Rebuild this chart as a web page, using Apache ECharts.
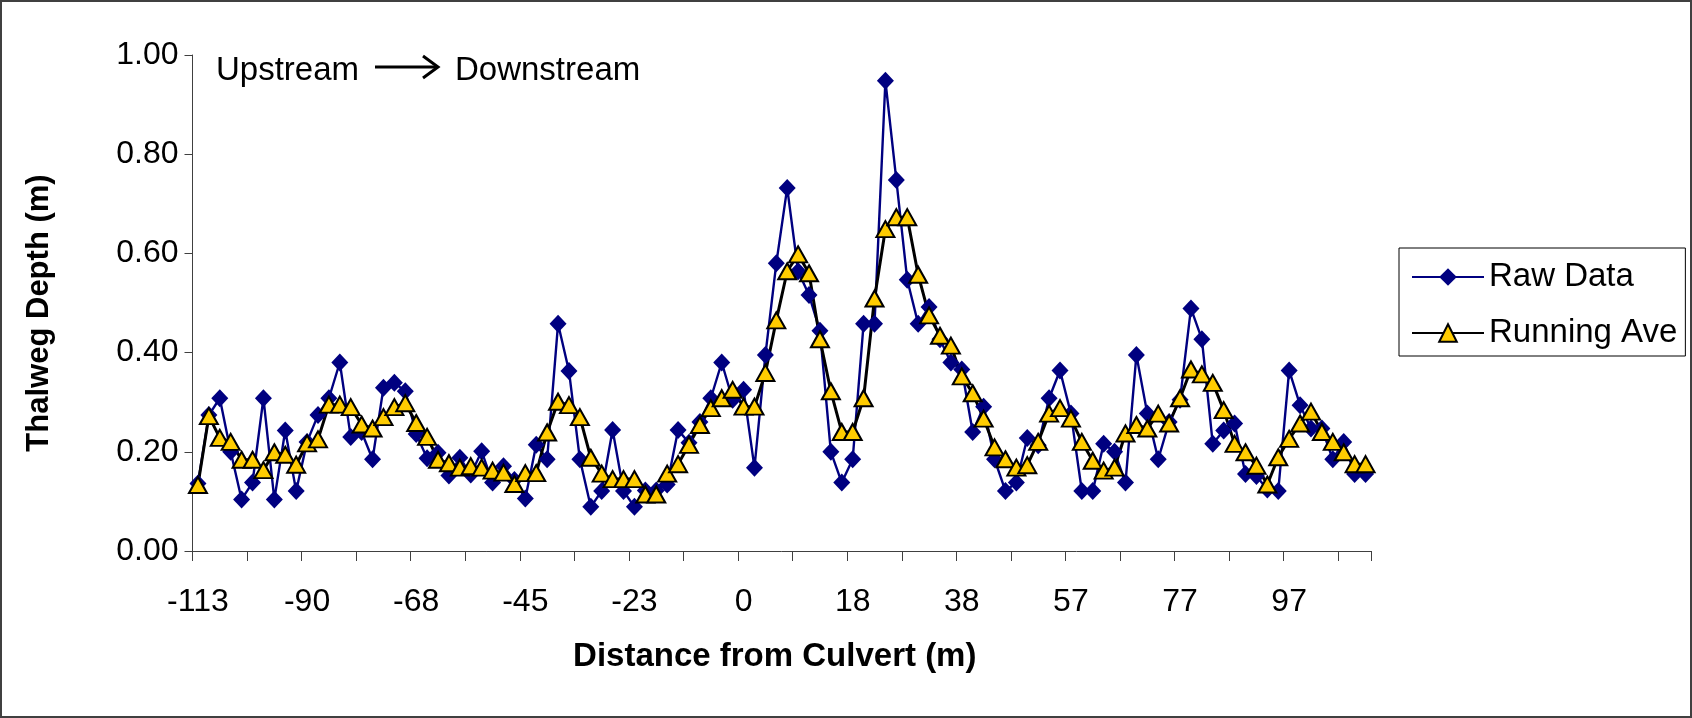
<!DOCTYPE html>
<html>
<head>
<meta charset="utf-8">
<script src="https://cdn.jsdelivr.net/npm/echarts@6/dist/echarts.min.js"></script>
<style>
html, body { margin: 0; padding: 0; background: #fff; }
#chart { width: 1692px; height: 718px; }
</style>
</head>
<body>
<div id="chart"></div>
<script>
// Distance from culvert (m) for each surveyed station (category axis)
const distances = [
  '-113','-111','-108','-106','-104','-101','-99','-97','-95','-92',
  '-90','-88','-86','-83','-81','-79','-77','-75','-72','-70',
  '-68','-66','-63','-61','-59','-56','-54','-52','-50','-47',
  '-45','-43','-41','-38','-36','-34','-32','-30','-27','-25',
  '-23','-21','-18','-16','-14','-11','-9','-7','-5','-2',
  '0','2','4','5','7','9','11','13','14','16',
  '18','20','22','24','26','28','30','32','34','36',
  '38','40','42','44','46','48','49','51','53','55',
  '57','59','61','63','65','67','69','71','73','75',
  '77','79','81','83','85','87','89','91','93','95',
  '97','99','101','103','105','107','109','111'
];

// Thalweg depth (m), raw survey data
const rawData = [
  0.136, 0.274, 0.308, 0.200, 0.104, 0.138, 0.308, 0.104, 0.243, 0.121,
  0.220, 0.274, 0.308, 0.380, 0.230, 0.240, 0.185, 0.329, 0.339, 0.322,
  0.236, 0.187, 0.198, 0.152, 0.188, 0.154, 0.201, 0.138, 0.171, 0.143,
  0.106, 0.214, 0.185, 0.458, 0.363, 0.185, 0.089, 0.121, 0.244, 0.121,
  0.089, 0.122, 0.122, 0.134, 0.244, 0.218, 0.260, 0.308, 0.380, 0.305,
  0.325, 0.168, 0.395, 0.580, 0.732, 0.564, 0.516, 0.444, 0.200, 0.138,
  0.185, 0.458, 0.458, 0.948, 0.748, 0.547, 0.458, 0.492, 0.427, 0.380,
  0.366, 0.240, 0.291, 0.185, 0.121, 0.138, 0.228, 0.213, 0.308, 0.364,
  0.277, 0.121, 0.121, 0.216, 0.200, 0.138, 0.395, 0.277, 0.185, 0.260,
  0.305, 0.489, 0.427, 0.216, 0.243, 0.257, 0.155, 0.151, 0.124, 0.121,
  0.364, 0.294, 0.247, 0.247, 0.185, 0.220, 0.155, 0.155
];

// Thalweg depth (m), running average
const runningAve = [
  0.133, 0.272, 0.228, 0.220, 0.184, 0.184, 0.163, 0.199, 0.194, 0.174,
  0.217, 0.225, 0.295, 0.295, 0.290, 0.255, 0.247, 0.270, 0.290, 0.298,
  0.258, 0.230, 0.184, 0.177, 0.168, 0.171, 0.168, 0.162, 0.158, 0.135,
  0.157, 0.157, 0.239, 0.301, 0.294, 0.270, 0.188, 0.156, 0.145, 0.145,
  0.145, 0.114, 0.114, 0.156, 0.175, 0.214, 0.254, 0.288, 0.308, 0.325,
  0.291, 0.291, 0.359, 0.465, 0.564, 0.598, 0.560, 0.427, 0.322, 0.240,
  0.240, 0.308, 0.509, 0.649, 0.673, 0.673, 0.557, 0.475, 0.434, 0.414,
  0.352, 0.318, 0.267, 0.209, 0.185, 0.168, 0.173, 0.220, 0.277, 0.288,
  0.267, 0.220, 0.182, 0.162, 0.168, 0.237, 0.254, 0.247, 0.277, 0.257,
  0.308, 0.366, 0.356, 0.339, 0.284, 0.216, 0.199, 0.172, 0.134, 0.189,
  0.226, 0.257, 0.281, 0.240, 0.220, 0.199, 0.175, 0.175
];

const yTicks = [0, 0.2, 0.4, 0.6, 0.8, 1.0];

const FONT = "'Liberation Sans', Arial, sans-serif";

const chart = echarts.init(document.getElementById('chart'), null, { renderer: 'canvas' });

chart.setOption({
  animation: false,
  backgroundColor: '#ffffff',
  textStyle: { fontFamily: FONT, color: '#000' },
  grid: { left: 192.5, right: 321, top: 55, bottom: 167, containLabel: false },
  legend: {
    orient: 'vertical',
    left: 1399,
    top: 248,
    padding: [11, 8, 5, 12],
    borderColor: '#000',
    borderWidth: 1,
    itemWidth: 72,
    itemHeight: 22,
    itemGap: 20,
    textStyle: { fontFamily: FONT, fontSize: 33, color: '#000', lineHeight: 36 },
    data: ['Raw Data', 'Running Ave']
  },
  xAxis: {
    type: 'category',
    data: distances,
    boundaryGap: true,
    name: 'Distance from Culvert (m)',
    nameLocation: 'middle',
    nameGap: 89,
    nameTextStyle: { fontFamily: FONT, fontSize: 33, fontWeight: 'bold', color: '#000', padding: [0, 14, 0, 0] },
    axisLine: { show: true, lineStyle: { color: '#404040', width: 1 } },
    axisTick: { show: true, interval: 4, length: 10, alignWithLabel: false, lineStyle: { color: '#404040', width: 1 } },
    axisLabel: { interval: 9, margin: 35, fontSize: 32, color: '#000', fontFamily: FONT },
    splitLine: { show: false }
  },
  yAxis: {
    type: 'value',
    min: yTicks[0],
    max: yTicks[yTicks.length - 1],
    interval: 0.2,
    name: 'Thalweg Depth (m)',
    nameLocation: 'middle',
    nameGap: 138,
    nameTextStyle: { fontFamily: FONT, fontSize: 31, fontWeight: 'bold', color: '#000', padding: [0, 20, 0, 0] },
    axisLine: { show: true, lineStyle: { color: '#404040', width: 1 } },
    axisTick: { show: true, length: 8, lineStyle: { color: '#404040', width: 1 } },
    axisLabel: { margin: 14, fontSize: 32, color: '#000', fontFamily: FONT, formatter: v => v.toFixed(2) },
    splitLine: { show: false }
  },
  graphic: [
    { type: 'rect', z: -10, silent: true, shape: { x: 1, y: 1, width: 1690, height: 716 },
      style: { fill: 'none', stroke: '#404040', lineWidth: 2 } },
    { type: 'text', x: 216, y: 71, style: { text: 'Upstream', fontFamily: FONT, fontSize: 33, fill: '#000', verticalAlign: 'middle', align: 'left' } },
    { type: 'line', shape: { x1: 375, y1: 67, x2: 437, y2: 67 }, style: { stroke: '#000', lineWidth: 3 } },
    { type: 'polyline', shape: { points: [[423, 56], [438, 67], [423, 78]] }, style: { stroke: '#000', lineWidth: 3, fill: 'none' } },
    { type: 'text', x: 455, y: 71, style: { text: 'Downstream', fontFamily: FONT, fontSize: 33, fill: '#000', verticalAlign: 'middle', align: 'left' } }
  ],
  series: [
    {
      name: 'Raw Data',
      type: 'line',
      data: rawData,
      symbol: 'diamond',
      symbolSize: [17, 18],
      showAllSymbol: true,
      lineStyle: { color: '#000080', width: 2.4 },
      itemStyle: { color: '#000080', borderColor: '#000080', borderWidth: 0 }
    },
    {
      name: 'Running Ave',
      type: 'line',
      data: runningAve,
      symbol: 'triangle',
      symbolSize: [18, 16],
      showAllSymbol: true,
      lineStyle: { color: '#000000', width: 3 },
      itemStyle: { color: '#FFCC00', borderColor: '#000000', borderWidth: 2 }
    }
  ]
});
</script>
</body>
</html>
